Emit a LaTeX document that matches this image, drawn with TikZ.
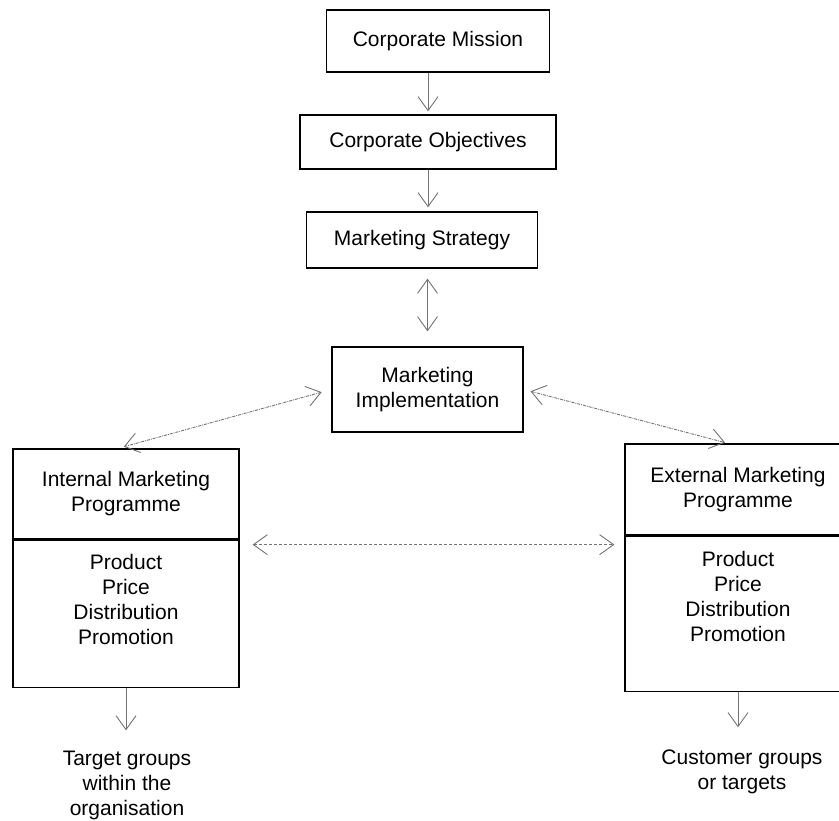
\documentclass[tikz,border=0pt]{standalone}
\usepackage{fontspec}
\setmainfont{Liberation Sans}
\usetikzlibrary{arrows.meta}

\tikzstyle{box} = [draw, line width=1.3pt, align=center, inner sep=0pt, font=\fontsize{21}{25}\selectfont]
\tikzstyle{txt} = [align=center, inner sep=0pt, font=\fontsize{21}{25}\selectfont]
\tikzstyle{link} = [draw=black!55, line width=0.9pt, >={Straight Barb[length=14pt,width=20pt]}]

\begin{document}
\begin{tikzpicture}[x=1pt,y=-1pt]
	\clip (0,0) rectangle (839,821);
	\node[box, minimum width=223pt, minimum height=62pt] (mission) at (438,41) {Corporate Mission};
	\node[box, minimum width=256pt, minimum height=54pt] (objectives) at (428,142) {Corporate Objectives};
	\node[box, minimum width=231pt, minimum height=56pt] (strategy) at (422,240) {Marketing Strategy};
	\node[box, minimum width=191pt, minimum height=85pt] (impl) at (427.5,389.5) {Marketing\\Implementation};
	\node[box, minimum width=226pt, minimum height=90pt] (intHead) at (126,494) {Internal Marketing\\Programme};
	\node[box, minimum width=226pt, minimum height=147pt, anchor=north] (intBody) at (intHead.south) {};
	\node[txt] (intMix) at (126,599) {Product\\Price\\Distribution\\Promotion};
	\node[box, minimum width=226pt, minimum height=91pt] (extHead) at (738,489.5) {External Marketing\\Programme};
	\node[box, minimum width=226pt, minimum height=155pt, anchor=north] (extBody) at (extHead.south) {};
	\node[txt] (extMix) at (738,596) {Product\\Price\\Distribution\\Promotion};
	\node[txt] (intTarget) at (127,785) {Target groups\\within the\\organisation};
	\node[txt] (extTarget) at (742,771.5) {Customer groups\\or targets};
	\draw[link, ->, shorten >=3pt] (mission.south -| objectives.north) -- (objectives.north);
	\draw[link, ->, shorten >=4pt] (objectives.south) -- (objectives.south |- strategy.north);
	\draw[link, <->, shorten <=10pt, shorten >=15pt] (strategy.south -| impl.north) -- (impl.north);
	\draw[link, <->, densely dash dot, shorten <=10pt, shorten >=6pt] (impl.west) -- ([xshift=-8pt]intHead.north);
	\draw[link, <->, densely dash dot, shorten <=7pt, shorten >=3pt] (impl.east) -- ([xshift=-10pt]extHead.north);
	\draw[link, <->, densely dashed, shorten <=13pt, shorten >=10pt] ([yshift=-5pt]intBody.north east) -- ([yshift=-5pt]intBody.north east -| extBody.west);
	\draw[link, ->, shorten >=20pt] (intBody.south) -- (intBody.south |- intTarget.north);
	\draw[link, ->, shorten >=22pt] (extBody.south) -- (extBody.south |- extTarget.north);
	\end{tikzpicture}
\end{document}
